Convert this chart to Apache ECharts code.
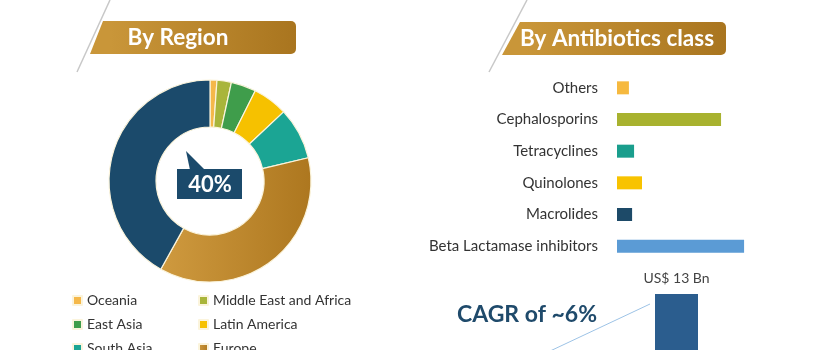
<!DOCTYPE html>
<html>
<head>
<meta charset="utf-8">
<script src="https://cdn.jsdelivr.net/npm/echarts@6/dist/echarts.min.js"></script>
<style>
  html, body { margin: 0; padding: 0; background: #fff; }
  #main { width: 820px; height: 350px; }
</style>
</head>
<body>
<div id="main"></div>
<script>
// region share (%)
var regions = ['Oceania', 'Middle East and Africa', 'East Asia', 'Latin America', 'South Asia', 'Europe', 'North America'];
var regionShare = [1.1, 2.3, 4.0, 5.6, 8.3, 36.8, 41.9];
var regionColors = ['#f5b84a', '#a9b53a', '#3f9d4b', '#f6c100', '#1ba594', '#c48b2e', '#1b4a6b'];

// antibiotics class (relative share)
var classes = ['Others', 'Cephalosporins', 'Tetracyclines', 'Quinolones', 'Macrolides', 'Beta Lactamase inhibitors'];
var classValues = [3.0, 26.2, 4.3, 6.3, 3.8, 32.0];
var classColors = ['#f6b93f', '#a8b22f', '#1a9e8d', '#f8c300', '#1d4a68', '#5b9bd5'];

// market size
var years = ['2030'];
var marketSize = [13];

var legendLeft = ['Oceania', 'East Asia', 'South Asia', 'North America'];
var legendRight = ['Middle East and Africa', 'Latin America', 'Europe'];

var chart = echarts.init(document.getElementById('main'), null, { renderer: 'canvas' });

var gold = new echarts.graphic.LinearGradient(0, 0, 1, 0, [
  { offset: 0, color: '#c99639' },
  { offset: 1, color: '#a9751f' }
]);

function banner(x0, x1, xTop, xBot, y0, y1, textX, text) {
  return [
    {
      type: 'line',
      shape: { x1: xTop + 7, y1: 0, x2: xBot - 13, y2: 72 },
      style: { stroke: '#c8c8c8', lineWidth: 1.5 }
    },
    {
      type: 'polygon',
      shape: { points: [[xTop, y0], [x0 + 20, y0], [x0 + 20, y1], [xBot, y1]] },
      style: { fill: '#c99639' }
    },
    {
      type: 'rect',
      shape: { x: x0 + 10, y: y0, width: x1 - x0 - 10, height: y1 - y0, r: [0, 5, 5, 0] },
      style: { fill: gold }
    },
    {
      type: 'text',
      x: textX,
      y: (y0 + y1) / 2,
      style: {
        text: text, fill: '#fff', font: 'bold 22.5px Lato',
        align: 'center', verticalAlign: 'middle'
      }
    }
  ];
}

var graphics = []
  .concat(banner(100, 296, 103, 90, 21, 54, 178, 'By Region'))
  .concat(banner(515, 726, 520, 502, 22, 55, 617, 'By Antibiotics class'))
  .concat([
    // 40% callout
    {
      type: 'polygon', z: 10,
      shape: { points: [[190, 170], [205, 170], [186, 151]] },
      style: { fill: '#1b4a6b' }
    },
    {
      type: 'rect', z: 10,
      shape: { x: 177, y: 169, width: 65, height: 30 },
      style: { fill: '#1b4a6b' }
    },
    {
      type: 'text', z: 11, x: 210, y: 185,
      style: { text: '40%', fill: '#fff', font: 'bold 22px Lato', align: 'center', verticalAlign: 'middle' }
    },
    // CAGR
    {
      type: 'line',
      shape: { x1: 548, y1: 352, x2: 650, y2: 304 },
      style: { stroke: '#9dc3e6', lineWidth: 1 }
    },
    {
      type: 'text', x: 527, y: 315,
      style: { text: 'CAGR of ~6%', fill: '#1f4a6b', font: 'bold 23px Lato', align: 'center', verticalAlign: 'middle' }
    }
  ]);

var legendText = { fontFamily: 'Lato', fontSize: 14, color: '#333', lineHeight: 15 };

var option = {
  animation: false,
  graphic: graphics,
  legend: [{
    orient: 'vertical',
    left: 72,
    top: 293,
    height: 200,
    padding: 0,
    data: legendLeft,
    icon: 'rect',
    itemWidth: 9,
    itemHeight: 9,
    itemGap: 9,
    textStyle: legendText
  }, {
    orient: 'vertical',
    left: 198,
    top: 293,
    height: 200,
    padding: 0,
    data: legendRight,
    icon: 'rect',
    itemWidth: 9,
    itemHeight: 9,
    itemGap: 9,
    textStyle: legendText
  }],
  grid: [{
    left: 617,
    top: 72,
    width: 139,
    height: 190
  }, {
    left: 640,
    top: 294,
    width: 73,
    height: 200
  }],
  xAxis: [{
    gridIndex: 0,
    type: 'value',
    min: 0,
    max: 35,
    show: false
  }, {
    gridIndex: 1,
    type: 'category',
    data: years,
    show: false
  }],
  yAxis: [{
    gridIndex: 0,
    type: 'category',
    inverse: true,
    data: classes,
    axisLine: { show: false },
    axisTick: { show: false },
    axisLabel: { fontFamily: 'Lato', fontSize: 15, color: '#333', margin: 19 }
  }, {
    gridIndex: 1,
    type: 'value',
    min: 0,
    max: 13,
    show: false
  }],
  series: [{
    name: 'By Region',
    type: 'pie',
    center: [210, 181],
    radius: [54, 101],
    startAngle: 90,
    label: { show: false },
    labelLine: { show: false },
    itemStyle: { borderColor: '#fbf4dc', borderWidth: 1.2 },
    data: regions.map(function (name, i) {
      var c = regionColors[i];
      if (name === 'Europe') {
        c = new echarts.graphic.LinearGradient(0, 0, 1, 0, [
          { offset: 0, color: '#cf9a3f' },
          { offset: 1, color: '#ad771f' }
        ]);
      }
      return { name: name, value: regionShare[i], itemStyle: { color: c } };
    })
  }, {
    name: 'By Antibiotics class',
    type: 'bar',
    xAxisIndex: 0,
    yAxisIndex: 0,
    barWidth: 13,
    data: classValues.map(function (v, i) {
      return { value: v, itemStyle: { color: classColors[i] } };
    })
  }, {
    name: 'Market size',
    type: 'bar',
    xAxisIndex: 1,
    yAxisIndex: 1,
    barWidth: 43,
    itemStyle: { color: '#2b5d8e' },
    label: {
      show: true,
      position: 'top',
      distance: 9,
      formatter: 'US$ {c} Bn',
      fontFamily: 'Lato',
      fontSize: 14,
      color: '#444'
    },
    data: marketSize
  }]
};

chart.setOption(option);
</script>
</body>
</html>
